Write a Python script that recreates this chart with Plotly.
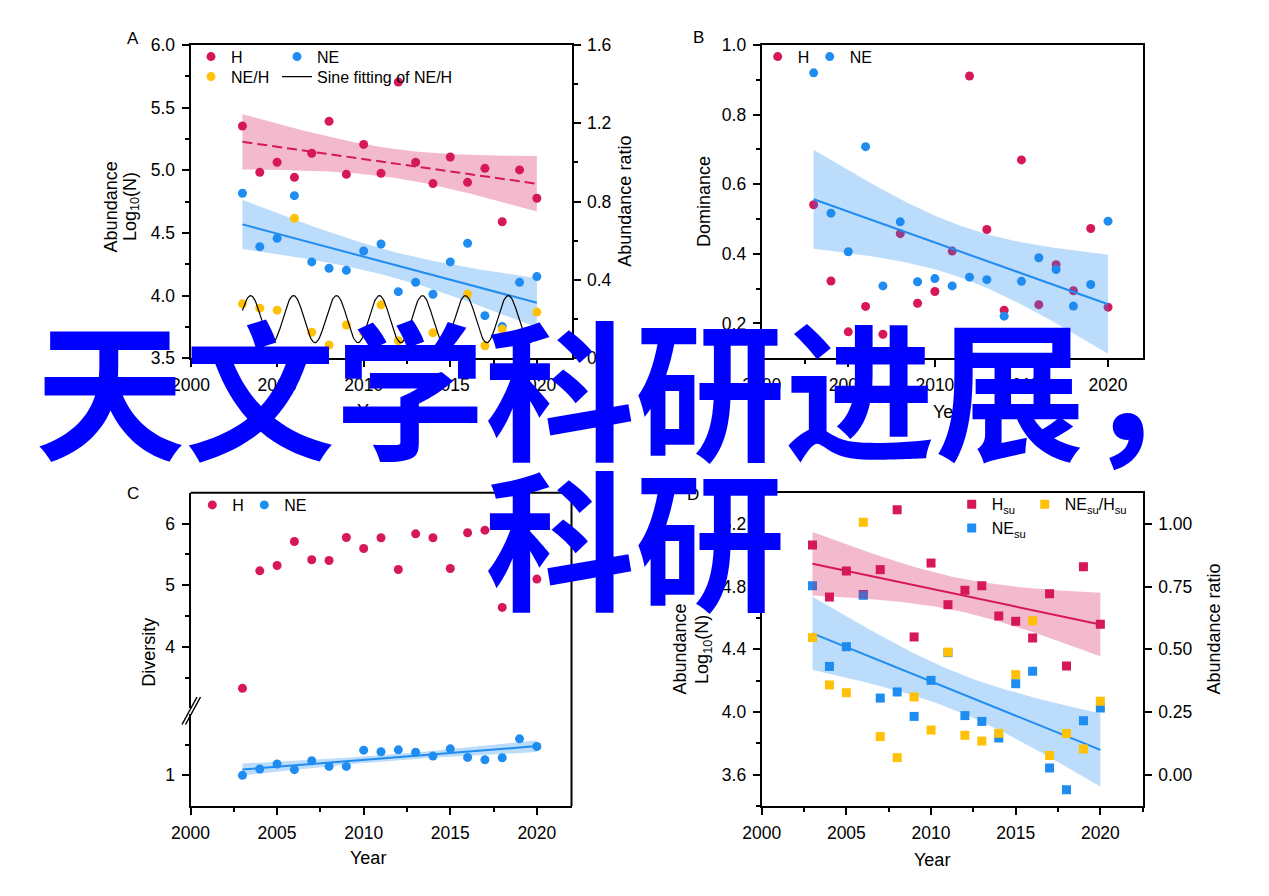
import numpy as np
import plotly.graph_objects as go

W, H = 1269, 896

# ---------------- data ----------------
YEARS = list(range(2003, 2021))

# Panel A: abundance (log10 N) and ratio
A_H = [5.354, 4.984, 5.064, 4.944, 5.136, 5.391, 4.968, 5.207, 4.976, 5.705,
       5.064, 4.894, 5.106, 4.904, 5.016, 4.590, 5.003, 4.777]
A_NE = [4.817, 4.391, 4.457, 4.798, 4.269, 4.218, 4.202, 4.356, 4.412, 4.032,
        4.106, 4.011, 4.269, 4.418, 3.840, 3.753, 4.106, 4.152]
A_RATIO = [0.278, 0.256, 0.246, 0.715, 0.133, 0.068, 0.170, 0.131, 0.273, 0.090,
           0.110, 0.130, 0.157, 0.328, 0.064, 0.149, 0.100, 0.236]
# fitted sine parameters (NE/H)
SINE_MEAN, SINE_AMP, SINE_PERIOD, SINE_PEAK = 0.20, 0.12, 2.48, 2018.35

# Panel B: dominance
B_H = [0.541, 0.322, 0.176, 0.249, 0.169, 0.458, 0.258, 0.292, 0.408, 0.911,
       0.470, 0.238, 0.670, 0.254, 0.369, 0.294, 0.473, 0.247]
B_NE = [0.920, 0.517, 0.406, 0.708, 0.308, 0.492, 0.320, 0.329, 0.308, 0.333,
        0.326, 0.221, 0.321, 0.389, 0.355, 0.250, 0.312, 0.494]

# Panel C: diversity
C_H = [3.324, 5.232, 5.319, 5.708, 5.411, 5.400, 5.773, 5.595, 5.768, 5.254,
       5.832, 5.768, 5.270, 5.849, 5.892, 4.638, 5.700, 5.097]
C_NE = [1.000, 1.103, 1.184, 1.092, 1.238, 1.146, 1.146, 1.411, 1.384, 1.416,
        1.378, 1.314, 1.432, 1.292, 1.254, 1.286, 1.595, 1.470]

# Panel D: summer abundance and ratio
D_H = [5.066, 4.734, 4.900, 4.750, 4.909, 5.291, 4.479, 4.951, 4.685, 4.777,
       4.806, 4.613, 4.579, 4.472, 4.755, 4.294, 4.928, 4.560]
D_NE = [4.806, 4.291, 4.417, 4.745, 4.089, 4.128, 3.972, 4.202, 4.379, 3.977,
        3.940, 3.834, 4.181, 4.260, 3.643, 3.504, 3.945, 4.026]
D_RATIO = [0.547, 0.358, 0.327, 1.007, 0.152, 0.068, 0.310, 0.178, 0.489, 0.157,
           0.134, 0.165, 0.399, 0.614, 0.076, 0.164, 0.102, 0.293]

OVERLAY_LINE1 = "天文学科研进展，"
OVERLAY_LINE2 = "科研"

# ---------------- style ----------------
RED = "#D6185A"
BLUE = "#1E8CF0"
YELLOW = "#FFC107"
RED_BAND = "rgba(214,24,90,0.30)"
BLUE_BAND = "rgba(30,140,240,0.30)"
T_CRIT = 2.12
FONT = "Liberation Sans, Arial, sans-serif"
TICK_SIZE = 17.5
TITLE_SIZE = 18
LEG_SIZE = 16


def px(x):
    return x / W


def py(y):
    return 1 - y / H


def fit(xv, yv, n_pts=80):
    x = np.asarray(xv, float)
    y = np.asarray(yv, float)
    b, a = np.polyfit(x, y, 1)
    xs = np.linspace(x.min(), x.max(), n_pts)
    yhat = a + b * xs
    resid = y - (a + b * x)
    s = np.sqrt((resid ** 2).sum() / (len(x) - 2))
    sxx = ((x - x.mean()) ** 2).sum()
    se = s * np.sqrt(1 / len(x) + (xs - x.mean()) ** 2 / sxx)
    return xs, yhat, yhat + T_CRIT * se, yhat - T_CRIT * se


def band_trace(xs, up, lo, fill, xa, ya):
    return go.Scatter(x=np.concatenate([xs, xs[::-1]]), y=np.concatenate([up, lo[::-1]]),
                      fill="toself", fillcolor=fill, line=dict(width=0), mode="lines",
                      hoverinfo="skip", showlegend=False, xaxis=xa, yaxis=ya)


def line_trace(xs, yhat, color, xa, ya, dash="solid"):
    return go.Scatter(x=xs, y=yhat, mode="lines", line=dict(color=color, width=2, dash=dash),
                      showlegend=False, xaxis=xa, yaxis=ya)


def pts(y, color, name, xa, ya, legend, lw, symbol="circle"):
    return go.Scatter(x=YEARS, y=y, mode="markers", name=name,
                      marker=dict(color=color, size=9, symbol=symbol, line=dict(width=0)),
                      xaxis=xa, yaxis=ya, legend=legend, legendwidth=lw)


traces = []

# ---- Panel A ----
xsH, yH, uH, lH = fit(YEARS, A_H)
xsN, yN, uN, lN = fit(YEARS, A_NE)
traces.append(band_trace(xsH, uH, lH, RED_BAND, "x", "y"))
traces.append(band_trace(xsN, uN, lN, BLUE_BAND, "x", "y"))
traces.append(pts(A_H, RED, "H", "x", "y", "legend", 41))
traces.append(pts(A_NE, BLUE, "NE", "x", "y", "legend", 60))
traces.append(line_trace(xsH, yH, RED, "x", "y", dash="10px,5px"))
traces.append(line_trace(xsN, yN, BLUE, "x", "y"))
traces.append(pts(A_RATIO, YELLOW, "NE/H", "x", "y2", "legend2", 41))
sx = np.linspace(YEARS[0], YEARS[-1], 400)
sy = SINE_MEAN + SINE_AMP * np.cos(2 * np.pi * (sx - SINE_PEAK) / SINE_PERIOD)
traces.append(go.Scatter(x=sx, y=sy, mode="lines", name="Sine fitting of NE/H",
                         line=dict(color="black", width=1.2), xaxis="x", yaxis="y2",
                         legend="legend2", legendwidth=170))

# ---- Panel B ----
xsB, yB, uB, lB = fit(YEARS, B_NE)
traces.append(pts(B_H, RED, "H", "x2", "y3", "legend3", 7))
traces.append(pts(B_NE, BLUE, "NE", "x2", "y3", "legend3", 45))
traces.append(band_trace(xsB, uB, lB, BLUE_BAND, "x2", "y3"))
traces.append(line_trace(xsB, yB, BLUE, "x2", "y3"))

# ---- Panel C ----
xsC, yC, uC, lC = fit(YEARS, C_NE)
traces.append(pts(C_H, RED, "H", "x3", "y5", "legend4", 7))
traces.append(band_trace(xsC, uC, lC, BLUE_BAND, "x3", "y4"))
traces.append(pts(C_NE, BLUE, "NE", "x3", "y4", "legend4", 45))
traces.append(line_trace(xsC, yC, BLUE, "x3", "y4"))

# ---- Panel D ----
xsDH, yDH, uDH, lDH = fit(YEARS, D_H)
xsDN, yDN, uDN, lDN = fit(YEARS, D_NE)
traces.append(pts(D_H, RED, "H<sub>su</sub>", "x4", "y7", "legend5", 28, "square"))
traces.append(pts(D_NE, BLUE, "NE<sub>su</sub>", "x4", "y7", "legend6", 70, "square"))
traces.append(band_trace(xsDH, uDH, lDH, RED_BAND, "x4", "y7"))
traces.append(band_trace(xsDN, uDN, lDN, BLUE_BAND, "x4", "y7"))
traces.append(line_trace(xsDH, yDH, RED, "x4", "y7"))
traces.append(line_trace(xsDN, yDN, BLUE, "x4", "y7"))
traces.append(pts(D_RATIO, YELLOW, "NE<sub>su</sub>/H<sub>su</sub>", "x4", "y8", "legend5", 100,
                  "square"))

fig = go.Figure(traces)

# ---------------- geometry ----------------
LEFT = [190.5, 761.7]
PW = 381.0
TOP = [45.0, 492.7]
PH = 313.3
C_UP_BOTTOM = 708.3
C_LOW_TOP = 714.0


def xdom(i):
    return [px(LEFT[i]), px(LEFT[i] + PW)]


def ydom(top, bottom):
    return [py(bottom), py(top)]


tickfont = dict(size=TICK_SIZE, color="black", family=FONT)
common = dict(showgrid=False, zeroline=False, showline=True, linewidth=2, linecolor="black",
              ticks="outside", ticklen=7, tickwidth=2, tickcolor="black", tickfont=tickfont,
              ticklabelstandoff=3)


def minor(dtick=None, tick0=None, tickvals=None):
    m = dict(ticks="outside", ticklen=4, tickwidth=2, tickcolor="black", showgrid=False)
    if tickvals is not None:
        m.update(tickmode="array", tickvals=tickvals)
    else:
        m.update(dtick=dtick, tick0=tick0)
    return m


def xaxis(i, anchor, rng, mirror=True):
    return dict(common, domain=xdom(i), anchor=anchor, range=rng, tickmode="linear",
                tick0=2000, dtick=5, tickformat="d", mirror=mirror,
                minor=minor(2.5, 2000))


fig.update_layout(
    xaxis=xaxis(0, "y", [2000, 2022]),
    yaxis=dict(common, domain=ydom(TOP[0], TOP[0] + PH), anchor="x", range=[3.5, 6.0],
               tickmode="linear", tick0=3.5, dtick=0.5, tickformat=".1f",
               minor=minor(0.25, 3.5)),
    yaxis2=dict(common, overlaying="y", side="right", anchor="x", range=[0, 1.6],
                tickmode="linear", tick0=0, dtick=0.4, tickformat=".1f",
                minor=minor(0.2, 0)),
    xaxis2=xaxis(1, "y3", [2000, 2022]),
    yaxis3=dict(common, domain=ydom(TOP[0], TOP[0] + PH), anchor="x2", range=[0.1, 1.0],
                tickmode="linear", tick0=0.2, dtick=0.2, tickformat=".1f", mirror=True,
                minor=minor(0.1, 0.1)),
    xaxis3=xaxis(0, "y4", [2000, 2022], mirror=False),
    yaxis4=dict(common, domain=ydom(C_LOW_TOP, TOP[1] + PH), anchor="x3", range=[0.5, 2.0],
                tickmode="array", tickvals=[1], ticktext=["1"],
                minor=minor(tickvals=[1.5])),
    yaxis5=dict(common, domain=ydom(TOP[1], C_UP_BOTTOM), anchor="x3", range=[3.0, 6.5],
                tickmode="array", tickvals=[4, 5, 6], ticktext=["4", "5", "6"],
                minor=minor(tickvals=[3.5, 4.5, 5.5])),
    xaxis4=xaxis(1, "y7", [2000, 2022.5]),
    yaxis7=dict(common, domain=ydom(TOP[1], TOP[1] + PH), anchor="x4", range=[3.4, 5.4],
                tickmode="linear", tick0=3.6, dtick=0.4, tickformat=".1f",
                minor=minor(0.2, 3.4)),
    yaxis8=dict(common, overlaying="y7", side="right", anchor="x4", range=[-0.125, 1.125],
                tickmode="linear", tick0=0, dtick=0.25, tickformat=".2f"),
)


def leg(xpx, ypx):
    return dict(x=px(xpx), y=py(ypx), xanchor="left", yanchor="middle", orientation="h",
                bgcolor="rgba(0,0,0,0)", borderwidth=0,
                font=dict(size=LEG_SIZE, family=FONT, color="black"), tracegroupgap=0)


fig.update_layout(
    legend=leg(191, 56.7),
    legend2=leg(191, 76.7),
    legend3=leg(757.7, 56.7),
    legend4=leg(192.3, 505),
    legend5=leg(951.7, 504.3),
    legend6=leg(951.7, 528),
)

# ---------------- text ----------------
ann = []


def txt(s, xpx, ypx, size=TITLE_SIZE, angle=0):
    ann.append(dict(text=s, x=px(xpx), y=py(ypx), xref="paper", yref="paper",
                    xanchor="center", yanchor="middle", showarrow=False, textangle=angle,
                    font=dict(size=size, family=FONT, color="black")))


for letter, (lx, ly) in zip("ABCD", [(132.5, 38), (698.7, 37.5), (133, 493), (693, 494)]):
    txt(letter, lx, ly, size=17)

txt("Abundance", 110.7, 206.7, angle=-90)
txt("Log<sub>10</sub>(N)", 131.4, 206.7, angle=-90)
txt("Abundance ratio", 625, 201.7, angle=-90)
txt("Year", 375, 411)
txt("Dominance", 703.3, 201.7, angle=-90)
txt("Year", 951, 412)
txt("Diversity", 148.3, 652.5, angle=-90)
txt("Year", 368.3, 858.3)
txt("Abundance", 679.6, 649, angle=-90)
txt("Log<sub>10</sub>(N)", 702.9, 649, angle=-90)
txt("Abundance ratio", 1213.6, 629, angle=-90)
txt("Year", 932, 860)

# big overlay text
for s, yc in [(OVERLAY_LINE1, 383), (OVERLAY_LINE2, 533)]:
    ann.append(dict(text=s, x=0.5, y=py(yc), xref="paper", yref="paper",
                    xanchor="center", yanchor="middle", showarrow=False,
                    font=dict(size=150, family="Noto Sans CJK SC", color="#0000FF",
                              weight="bold")))

# axis break marks and top/right frame of panel C
CR = LEFT[0] + PW
shapes = [
    dict(type="line", xref="paper", yref="paper", x0=px(182), y0=py(724.5), x1=px(197), y1=py(697),
         line=dict(color="black", width=1.5)),
    dict(type="line", xref="paper", yref="paper", x0=px(185.5), y0=py(724.5), x1=px(200.5), y1=py(697),
         line=dict(color="black", width=1.5)),
    dict(type="line", xref="paper", yref="paper", x0=px(CR), y0=py(TOP[1]),
         x1=px(CR), y1=py(TOP[1] + PH), line=dict(color="black", width=2)),
    dict(type="line", xref="paper", yref="paper", x0=px(LEFT[0]), y0=py(TOP[1]),
         x1=px(CR), y1=py(TOP[1]), line=dict(color="black", width=2)),
]

fig.update_layout(
    annotations=ann, shapes=shapes,
    width=W, height=H, margin=dict(l=0, r=0, t=0, b=0, autoexpand=False),
    paper_bgcolor="white", plot_bgcolor="rgba(0,0,0,0)",
    font=dict(family=FONT, color="black"),
    hovermode=False,
)

fig.write_html("out.html", include_plotlyjs=True, full_html=True,
               config={"displayModeBar": False, "staticPlot": True},
               post_script="document.body.style.margin='0';document.body.style.overflow='hidden';")
